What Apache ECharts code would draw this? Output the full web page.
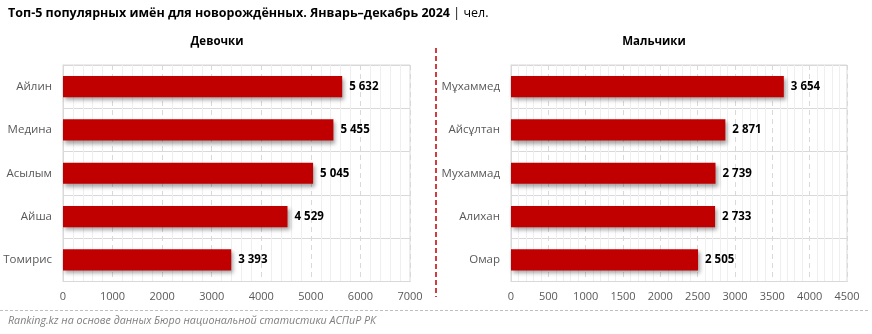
<!DOCTYPE html>
<html>
<head>
<meta charset="utf-8">
<script src="https://cdn.jsdelivr.net/npm/echarts@6/dist/echarts.min.js"></script>
<style>
  html, body { margin: 0; padding: 0; background: #fff; }
  #chart { width: 872px; height: 334px; }
</style>
</head>
<body>
<div id="chart"></div>
<script>
// Most popular newborn names, Jan–Dec 2024 (persons)
const girlNames = ['Айлин', 'Медина', 'Асылым', 'Айша', 'Томирис'];
const girlCounts = [5632, 5455, 5045, 4529, 3393];
const boyNames = ['Мұхаммед', 'Айсұлтан', 'Мухаммад', 'Алихан', 'Омар'];
const boyCounts = [3654, 2871, 2739, 2733, 2505];

const girlAxis = { min: 0, max: 7000, interval: 1000 };
const boyAxis = { min: 0, max: 4500, interval: 500 };

const FONT = '"Open Sans", "Noto Sans", sans-serif';
const BAR_COLOR = '#c00000';
const GRID_COLOR = '#d9d9d9';

function fmt(v) {
  return String(v).replace(/\B(?=(\d{3})+(?!\d))/g, ' ');
}

function valueAxis(idx, cfg) {
  return {
    type: 'value', gridIndex: idx,
    min: cfg.min, max: cfg.max, interval: cfg.interval,
    axisLine: { show: true, lineStyle: { color: GRID_COLOR } },
    axisTick: { show: false },
    axisLabel: { color: '#595959', fontSize: 11, fontFamily: FONT, margin: 10,
                 formatter: v => String(v) },
    splitLine: { show: true, lineStyle: { color: GRID_COLOR, type: [5, 4] } },
    minorTick: { show: false, splitNumber: 5 },
    minorSplitLine: { show: true, lineStyle: { color: '#efefef', width: 1 } }
  };
}

function categoryAxis(idx, names) {
  return {
    type: 'category', gridIndex: idx, data: names, inverse: true,
    axisLine: { show: true, lineStyle: { color: GRID_COLOR } },
    axisTick: { show: false },
    axisLabel: { color: '#595959', fontSize: 11.5, fontFamily: FONT, margin: 11 },
    splitLine: { show: true, lineStyle: { color: GRID_COLOR } }
  };
}

function barSeries(idx, values) {
  return {
    type: 'bar', xAxisIndex: idx, yAxisIndex: idx, data: values,
    barWidth: '49%',
    itemStyle: {
      color: BAR_COLOR,
      shadowColor: 'rgba(0,0,0,0.35)', shadowBlur: 4,
      shadowOffsetX: 2, shadowOffsetY: 3
    },
    label: {
      show: true, position: 'right', distance: 7,
      color: '#000', fontWeight: 'bold', fontSize: 11.5, fontFamily: FONT,
      formatter: p => fmt(p.value)
    }
  };
}

const chart = echarts.init(document.getElementById('chart'), null, { renderer: 'canvas' });
chart.setOption({
  animation: false,
  backgroundColor: '#fff',
  grid: [
    { left: 63, right: 462, top: 65, bottom: 52.5, show: true, borderColor: GRID_COLOR, borderWidth: 1 },
    { left: 511, right: 25, top: 65, bottom: 52.5, show: true, borderColor: GRID_COLOR, borderWidth: 1 }
  ],
  xAxis: [valueAxis(0, girlAxis), valueAxis(1, boyAxis)],
  yAxis: [categoryAxis(0, girlNames), categoryAxis(1, boyNames)],
  series: [barSeries(0, girlCounts), barSeries(1, boyCounts)],
  graphic: [
    {
      type: 'text', left: 8, top: 7,
      style: {
        text: '{b|Топ-5 популярных имён для новорождённых. Январь–декабрь 2024} {n|| чел.}',
        rich: {
          b: { fontFamily: FONT, fontSize: 12.5, fontWeight: 'bold', fill: '#000' },
          n: { fontFamily: FONT, fontSize: 12.5, fill: '#000' }
        }
      }
    },
    {
      type: 'text', x: 217, y: 42,
      style: { text: 'Девочки', fontFamily: FONT, fontSize: 11.5, fontWeight: 'bold', fill: '#000',
               textAlign: 'center', textVerticalAlign: 'middle' }
    },
    {
      type: 'text', x: 654, y: 42,
      style: { text: 'Мальчики', fontFamily: FONT, fontSize: 11.5, fontWeight: 'bold', fill: '#000',
               textAlign: 'center', textVerticalAlign: 'middle' }
    },
    {
      type: 'line',
      shape: { x1: 436, y1: 48, x2: 436, y2: 297 },
      style: { stroke: BAR_COLOR, lineWidth: 1.5, lineDash: [5, 3] }
    },
    {
      type: 'line',
      shape: { x1: 0, y1: 310.5, x2: 870, y2: 310.5 },
      style: { stroke: '#bfbfbf', lineWidth: 1, lineDash: [3, 2] }
    },
    {
      type: 'text', x: 8, y: 321,
      style: { text: 'Ranking.kz на основе данных Бюро национальной статистики АСПиР РК',
               fontFamily: FONT, fontSize: 10.7, fontStyle: 'italic', fill: '#7f7f7f',
               textVerticalAlign: 'middle' }
    }
  ]
});
</script>
</body>
</html>
